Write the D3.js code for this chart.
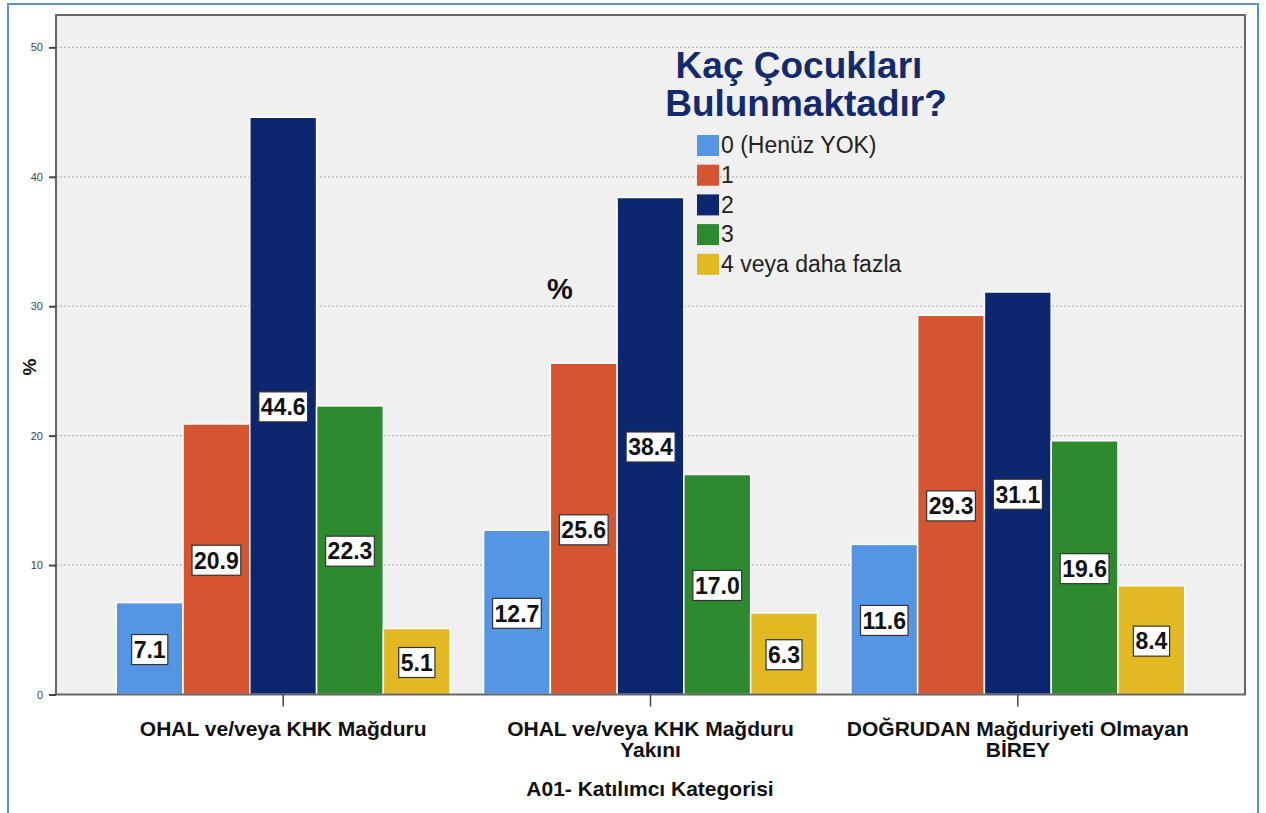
<!DOCTYPE html>
<html>
<head>
<meta charset="utf-8">
<script src="https://cdn.jsdelivr.net/npm/d3@7/dist/d3.min.js"></script>
<style>
  body { margin: 0; background: #fff; }
  svg { display: block; font-family: Arial, "Liberation Sans", sans-serif; }
</style>
</head>
<body>
<svg id="chart" width="1266" height="813"></svg>
<script>
// kategoriler (x ekseni)
const categories = [
  ["OHAL ve/veya KHK Mağduru"],
  ["OHAL ve/veya KHK Mağduru", "Yakını"],
  ["DOĞRUDAN Mağduriyeti Olmayan", "BİREY"]
];
// seriler: çocuk sayısı
const seriesNames = ["0 (Henüz YOK)", "1", "2", "3", "4 veya daha fazla"];
const seriesColors = ["#5596e4", "#d4552f", "#0c2670", "#2d8a2e", "#e3b923"];
// her kategori için yüzdeler, seri sırasıyla
const values0 = [7.1, 12.7, 11.6];
const values1 = [20.9, 25.6, 29.3];
const values2 = [44.6, 38.4, 31.1];
const values3 = [22.3, 17.0, 19.6];
const values4 = [5.1, 6.3, 8.4];
const yTicks = [0, 10, 20, 30, 40, 50];

const allValues = [values0, values1, values2, values3, values4];

const svg = d3.select("#chart");
const plot = { left: 56, top: 15, right: 1245, bottom: 694.5 };

// dış çerçeve
svg.append("rect")
  .attr("x", 8).attr("y", 4)
  .attr("width", 1250).attr("height", 830)
  .attr("fill", "none")
  .attr("stroke", "#5b8fd6")
  .attr("stroke-width", 2);

const x0 = d3.scaleBand()
  .domain(d3.range(categories.length))
  .range([plot.left, plot.right])
  .paddingInner(0.091)
  .paddingOuter(0.164);

const x1 = d3.scaleBand()
  .domain(d3.range(seriesNames.length))
  .range([0, x0.bandwidth()]);

const y = d3.scaleLinear()
  .domain([0, 52.5])
  .range([plot.bottom, plot.top]);

// arka plan
svg.append("rect")
  .attr("x", plot.left).attr("y", plot.top)
  .attr("width", plot.right - plot.left)
  .attr("height", plot.bottom - plot.top)
  .attr("fill", "#f0f0f0");

// ızgara çizgileri
svg.selectAll(".grid")
  .data(yTicks.filter(d => d > 0))
  .enter()
  .append("line")
  .attr("x1", plot.left).attr("x2", plot.right)
  .attr("y1", d => y(d)).attr("y2", d => y(d))
  .attr("stroke", "#b8b8b8")
  .attr("stroke-width", 1.2)
  .attr("stroke-dasharray", "2,2");

// çubuklar
const bars = [];
categories.forEach((c, ci) => {
  allValues.forEach((vals, si) => {
    bars.push({ ci, si, v: vals[ci] });
  });
});

svg.selectAll(".bar")
  .data(bars)
  .enter()
  .append("rect")
  .attr("class", "bar")
  .attr("x", d => x0(d.ci) + x1(d.si))
  .attr("y", d => y(d.v))
  .attr("width", x1.bandwidth())
  .attr("height", d => y(0) - y(d.v))
  .attr("fill", d => seriesColors[d.si])
  .attr("stroke", "#fff")
  .attr("stroke-width", 1.5);

// değer etiketleri (beyaz kutu)
const lab = svg.selectAll(".val")
  .data(bars)
  .enter()
  .append("g")
  .attr("transform", d => `translate(${x0(d.ci) + x1(d.si) + x1.bandwidth() / 2},${(y(d.v) + y(0)) / 2 + 1})`);

lab.append("text")
  .attr("text-anchor", "middle")
  .attr("dy", "0.36em")
  .attr("font-size", 23)
  .attr("font-weight", "bold")
  .attr("fill", "#111")
  .text(d => d.v.toFixed(1));

lab.each(function () {
  const g = d3.select(this);
  const b = g.select("text").node().getBBox();
  g.insert("rect", "text")
    .attr("x", b.x - 2).attr("y", -15)
    .attr("width", b.width + 4).attr("height", 30)
    .attr("fill", "#fff")
    .attr("stroke", "#333")
    .attr("stroke-width", 1.2);
});

// çerçeve
svg.append("rect")
  .attr("x", plot.left).attr("y", plot.top)
  .attr("width", plot.right - plot.left)
  .attr("height", plot.bottom - plot.top)
  .attr("fill", "none")
  .attr("stroke", "#666")
  .attr("stroke-width", 2);

// y ekseni
const yAxis = svg.append("g")
  .attr("transform", `translate(${plot.left},0)`)
  .call(d3.axisLeft(y).tickValues(yTicks).tickSize(7).tickPadding(6));
yAxis.select(".domain").remove();
yAxis.selectAll(".tick line").attr("stroke", "#444").attr("stroke-width", 2);
yAxis.selectAll(".tick text")
  .attr("font-size", 11)
  .attr("fill", "#444")
  .attr("font-family", "Arial, 'Liberation Sans', sans-serif");

// x ekseni
const xAxis = svg.append("g")
  .attr("transform", `translate(0,${plot.bottom})`)
  .call(d3.axisBottom(x0).tickSize(12).tickFormat(""));
xAxis.select(".domain").remove();
xAxis.selectAll(".tick line").attr("stroke", "#444").attr("stroke-width", 1.5);

svg.selectAll(".xlab")
  .data(categories)
  .enter()
  .append("text")
  .attr("text-anchor", "middle")
  .attr("font-size", 21)
  .attr("font-weight", "bold")
  .attr("fill", "#111")
  .selectAll("tspan")
  .data((d, i) => d.map(t => ({ t, i })))
  .enter()
  .append("tspan")
  .attr("x", d => x0(d.i) + x0.bandwidth() / 2)
  .attr("y", (d, j) => 736 + j * 21)
  .text(d => d.t);

// eksen başlıkları
svg.append("text")
  .attr("x", 650)
  .attr("y", 796)
  .attr("text-anchor", "middle")
  .attr("font-size", 21)
  .attr("font-weight", "bold")
  .attr("fill", "#111")
  .text("A01- Katılımcı Kategorisi");

svg.append("text")
  .attr("transform", "translate(36,367) rotate(-90)")
  .attr("text-anchor", "middle")
  .attr("font-size", 19)
  .attr("font-weight", "bold")
  .attr("fill", "#111")
  .text("%");

svg.append("text")
  .attr("x", 560).attr("y", 299)
  .attr("text-anchor", "middle")
  .attr("font-size", 29)
  .attr("font-weight", "bold")
  .attr("fill", "#111")
  .text("%");

// başlık
const title = svg.append("text")
  .attr("text-anchor", "middle")
  .attr("font-size", 37)
  .attr("font-weight", "bold")
  .attr("fill", "#142a6e");
title.append("tspan").attr("x", 799).attr("y", 78).text("Kaç Çocukları");
title.append("tspan").attr("x", 806).attr("y", 116).text("Bulunmaktadır?");

// lejant
const legend = svg.selectAll(".legend")
  .data(seriesNames)
  .enter()
  .append("g")
  .attr("transform", (d, i) => `translate(697,${145 + i * 29.7})`);

legend.append("rect")
  .attr("x", 0).attr("y", -10)
  .attr("width", 22).attr("height", 21)
  .attr("fill", (d, i) => seriesColors[i]);

legend.append("text")
  .attr("x", 24)
  .attr("dy", "0.36em")
  .attr("font-size", 23)
  .attr("fill", "#222")
  .text(d => d);
</script>
</body>
</html>
